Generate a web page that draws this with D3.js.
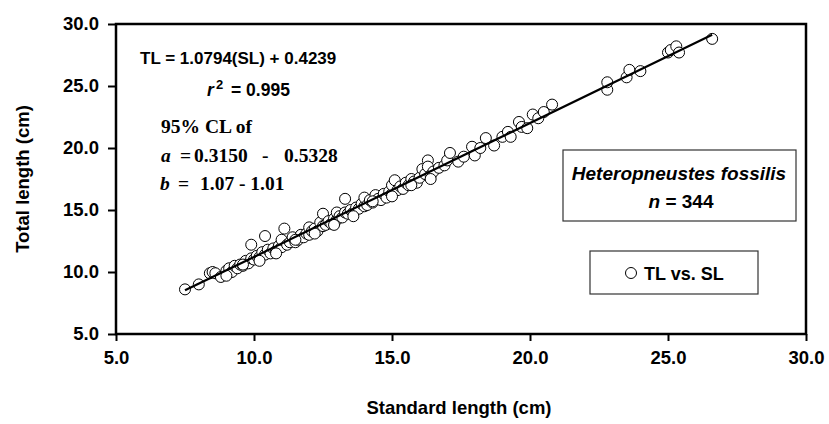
<!DOCTYPE html>
<html lang="en">
<head>
  <meta charset="UTF-8">
  <title>TL vs SL</title>
  <style>
    * {
      margin: 0;
      padding: 0;
    }
    body {
      background: #fff;
    }
    text {
      font-family: "Liberation Sans", Arial, sans-serif;
      font-weight: bold;
    }
  </style>
</head>
<body>
  <script src="https://d3js.org/d3.v7.min.js"></script>
  <script>
    const width = 829;
    const height = 424;
    const padding = { left: 116, right: 23, top: 24, bottom: 90 };

    // standard length (cm)
    const sl = [
      7.5, 8.0, 8.4, 8.5, 8.6, 8.8, 9.0, 9.1, 9.2, 9.3, 9.4, 9.5, 9.6, 9.7, 9.8, 9.9, 9.9,
      10.0, 10.1, 10.2, 10.3, 10.4, 10.4, 10.5, 10.6, 10.7, 10.8, 10.9, 11.0, 11.0, 11.1,
      11.2, 11.3, 11.4, 11.5, 11.6, 11.7, 11.8, 11.9, 12.0, 12.0, 12.1, 12.2, 12.3, 12.4,
      12.5, 12.5, 12.6, 12.7, 12.8, 12.9, 13.0, 13.0, 13.1, 13.2, 13.3, 13.3, 13.4, 13.5,
      13.6, 13.7, 13.8, 13.9, 14.0, 14.0, 14.1, 14.2, 14.3, 14.4, 14.5, 14.6, 14.7, 14.8,
      14.9, 15.0, 15.0, 15.1, 15.2, 15.3, 15.4, 15.5, 15.6, 15.7, 15.8, 15.9, 16.0, 16.1,
      16.2, 16.3, 16.3, 16.4, 16.5, 16.7, 16.9, 17.0, 17.1, 17.4, 17.6, 17.9, 18.0, 18.2,
      18.4, 18.7, 19.0, 19.2, 19.3, 19.6, 19.7, 19.9, 20.1, 20.3, 20.5, 20.8,
      22.8, 22.8, 23.5, 23.6, 24.0, 25.0, 25.1, 25.3, 25.4, 26.6,
      9.0, 9.6, 10.2, 10.8, 11.5, 12.2, 12.9, 13.6, 14.3, 15.0, 15.7, 16.4
    ];
    // total length (cm)
    const tl = [
      8.6, 9.0, 9.9, 10.0, 9.9, 9.6, 10.1, 10.3, 10.0, 10.5, 10.3, 10.6, 10.5, 10.9, 10.7, 11.1, 12.2,
      11.0, 11.3, 11.2, 11.6, 11.4, 12.9, 11.8, 11.5, 11.9, 11.7, 12.1, 12.0, 12.6, 13.5,
      12.2, 12.4, 12.8, 12.4, 12.6, 13.0, 12.8, 13.1, 13.0, 13.6, 13.3, 13.5, 13.3, 14.0,
      13.7, 14.7, 13.8, 14.1, 13.9, 14.3, 14.2, 14.8, 14.5, 14.4, 15.9, 14.8, 14.7, 15.0,
      14.8, 15.2, 15.1, 15.5, 15.3, 16.0, 15.4, 15.8, 15.6, 16.2, 15.9, 15.8, 16.3, 16.0,
      16.5, 16.3, 17.0, 17.4, 16.6, 16.9, 16.7, 17.2, 17.0, 17.5, 17.3, 17.2, 17.6, 18.3,
      17.9, 19.0, 18.5, 17.8, 18.1, 18.4, 18.6, 19.0, 19.6, 18.9, 19.3, 20.1, 19.4, 20.0,
      20.8, 20.2, 20.9, 21.3, 20.9, 22.1, 21.7, 21.6, 22.7, 22.4, 22.9, 23.5,
      24.7, 25.3, 25.7, 26.3, 26.2, 27.7, 27.9, 28.2, 27.7, 28.8,
      9.7, 10.6, 10.9, 11.5, 12.6, 13.1, 13.8, 14.5, 15.7, 16.1, 17.0, 17.5
    ];

    const ticks = [5, 10, 15, 20, 25, 30];
    const slope = 1.0794;
    const intercept = 0.4239;

    const sans = '"Liberation Sans", Arial, sans-serif';
    const serif = '"Liberation Serif", "Times New Roman", serif';

    const innerWidth = width - padding.left - padding.right;
    const innerHeight = height - padding.top - padding.bottom;

    const xScale = d3.scaleLinear()
      .domain([5, 30])
      .range([0, innerWidth]);
    const yScale = d3.scaleLinear()
      .domain([5, 30])
      .range([innerHeight, 0]);

    const svg = d3.select('body')
      .append('svg')
      .attr('width', width)
      .attr('height', height);

    const g = svg.append('g')
      .attr('transform', `translate(${padding.left}, ${padding.top})`);

    const xAxis = d3.axisBottom(xScale)
      .tickValues(ticks)
      .tickSize(7)
      .tickPadding(10)
      .tickFormat(d3.format('.1f'));
    const yAxis = d3.axisLeft(yScale)
      .tickValues(ticks)
      .tickSize(8)
      .tickPadding(9)
      .tickFormat(d3.format('.1f'));

    const gx = g.append('g')
      .attr('transform', `translate(0, ${innerHeight})`)
      .call(xAxis);
    const gy = g.append('g').call(yAxis);

    [gx, gy].forEach(a => {
      a.select('.domain').remove();
      a.selectAll('line').attr('stroke', '#000').attr('stroke-width', 2);
      a.selectAll('text')
        .attr('fill', '#000')
        .style('font-size', '18.5px')
        .style('font-family', sans)
        .style('font-weight', 'bold');
    });

    // frame
    g.append('rect')
      .attr('width', innerWidth)
      .attr('height', innerHeight)
      .attr('fill', 'none')
      .attr('stroke', '#000')
      .attr('stroke-width', 2.5);

    // points
    const pts = sl.map((d, i) => ({ sl: d, tl: tl[i] }));
    g.selectAll('circle.pt')
      .data(pts)
      .enter()
      .append('circle')
      .attr('class', 'pt')
      .attr('cx', d => xScale(d.sl))
      .attr('cy', d => yScale(d.tl))
      .attr('r', 5.5)
      .attr('fill', '#fff')
      .attr('stroke', '#000')
      .attr('stroke-width', 1);

    // regression line
    const xMin = d3.min(sl);
    const xMax = d3.max(sl);
    g.append('line')
      .attr('x1', xScale(xMin))
      .attr('y1', yScale(slope * xMin + intercept))
      .attr('x2', xScale(xMax))
      .attr('y2', yScale(slope * xMax + intercept))
      .attr('stroke', '#000')
      .attr('stroke-width', 2.2);

    // axis titles
    svg.append('text')
      .attr('x', 459)
      .attr('y', 414)
      .attr('text-anchor', 'middle')
      .style('font-size', '18.5px')
      .text('Standard length (cm)');
    svg.append('text')
      .attr('transform', 'translate(29, 179) rotate(-90)')
      .attr('text-anchor', 'middle')
      .style('font-size', '18.5px')
      .text('Total length (cm)');

    // equation
    svg.append('text')
      .attr('x', 140)
      .attr('y', 64)
      .style('font-size', '17px')
      .text('TL = 1.0794(SL) + 0.4239');
    const r2 = svg.append('text')
      .attr('y', 96)
      .style('font-size', '17.5px');
    r2.append('tspan').attr('x', 207).style('font-style', 'italic').text('r');
    r2.append('tspan').attr('x', 216).attr('y', 89).style('font-size', '13px').text('2');
    r2.append('tspan').attr('x', 231).attr('y', 96).text('= 0.995');

    svg.append('text')
      .attr('x', 161)
      .attr('y', 133)
      .style('font-family', serif)
      .style('font-size', '19.5px')
      .text('95% CL of');
    const ta = svg.append('text')
      .attr('y', 162)
      .style('font-family', serif)
      .style('font-size', '19.5px');
    ta.append('tspan').attr('x', 161).style('font-style', 'italic').text('a');
    ta.append('tspan').attr('x', 180).text('=');
    ta.append('tspan').attr('x', 194).text('0.3150');
    ta.append('tspan').attr('x', 262).text('-');
    ta.append('tspan').attr('x', 284).text('0.5328');
    const tb = svg.append('text')
      .attr('y', 190)
      .style('font-family', serif)
      .style('font-size', '19.5px');
    tb.append('tspan').attr('x', 160).style('font-style', 'italic').text('b');
    tb.append('tspan').attr('x', 178).text('=');
    tb.append('tspan').attr('x', 200).text('1.07 - 1.01');

    // species box
    svg.append('rect')
      .attr('x', 563)
      .attr('y', 150)
      .attr('width', 233)
      .attr('height', 71)
      .attr('fill', '#fff')
      .attr('stroke', '#333')
      .attr('stroke-width', 1.2);
    svg.append('text')
      .attr('x', 679)
      .attr('y', 180)
      .attr('text-anchor', 'middle')
      .style('font-size', '19px')
      .style('font-style', 'italic')
      .text('Heteropneustes fossilis');
    const tn = svg.append('text')
      .attr('x', 681)
      .attr('y', 208)
      .attr('text-anchor', 'middle')
      .style('font-size', '19px');
    tn.append('tspan').style('font-style', 'italic').text('n');
    tn.append('tspan').text(' = 344');

    // legend
    svg.append('rect')
      .attr('x', 590)
      .attr('y', 251)
      .attr('width', 168)
      .attr('height', 43)
      .attr('fill', '#fff')
      .attr('stroke', '#333')
      .attr('stroke-width', 1.2);
    svg.append('circle')
      .attr('cx', 631)
      .attr('cy', 273)
      .attr('r', 5.5)
      .attr('fill', '#fff')
      .attr('stroke', '#000');
    svg.append('text')
      .attr('x', 644)
      .attr('y', 280)
      .style('font-size', '18px')
      .text('TL vs. SL');
  </script>
</body>
</html>
